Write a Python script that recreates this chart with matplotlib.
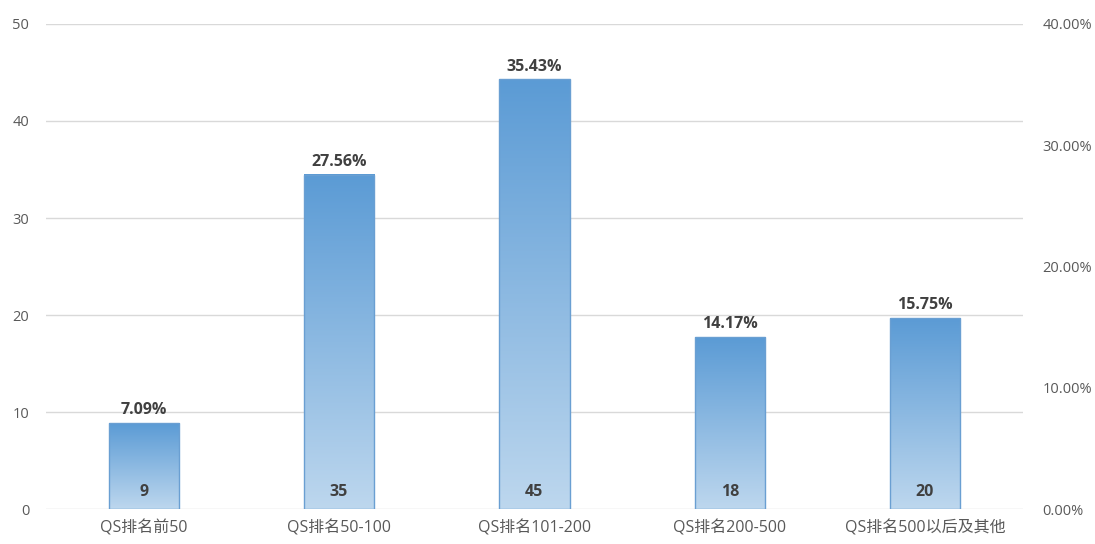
import matplotlib
matplotlib.use("Agg")
import matplotlib.pyplot as plt
import numpy as np
from matplotlib.colors import LinearSegmentedColormap

plt.rcParams['font.family'] = ['Open Sans', 'Noto Sans CJK SC', 'DejaVu Sans']

categories = ["QS排名前50", "QS排名50-100", "QS排名101-200", "QS排名200-500", "QS排名500以后及其他"]
counts = [9, 35, 45, 18, 20]
percents = [7.09, 27.56, 35.43, 14.17, 15.75]
left_ticks = [0, 10, 20, 30, 40, 50]
right_ticks = [0, 10, 20, 30, 40]

fig = plt.figure(figsize=(10.95, 5.44), dpi=100)
ax = fig.add_axes([0.042, 0.0643, 0.892, 0.8916])
ax2 = ax.twinx()

x = np.arange(len(categories))
w = 0.36

ax.set_xlim(-0.5, len(categories) - 0.5)
ax.set_ylim(0, 50)
ax.set_yticks(left_ticks)
ax.grid(axis='y', color='#d9d9d9', linewidth=1)
ax.set_axisbelow(True)
ax2.set_ylim(0, 40)
ax2.set_yticks(right_ticks)
ax2.set_yticklabels([f"{t:.2f}%" for t in right_ticks])

for a in (ax, ax2):
    for s in a.spines.values():
        s.set_visible(False)
    a.tick_params(length=0, labelsize=10.5, colors='#595959')
ax.tick_params(axis='y', pad=12)
ax2.tick_params(axis='y', pad=14)
ax.set_xticks(x)
ax.set_xticklabels(categories, fontsize=11.5, color='#595959')
ax.tick_params(axis='x', pad=8)

cmap = LinearSegmentedColormap.from_list('g', ['#bdd7ee', '#5b9bd5'])
grad = np.linspace(0, 1, 256).reshape(-1, 1)
for xi, p, c in zip(x, percents, counts):
    ax2.imshow(grad, extent=(xi - w / 2, xi + w / 2, 0, p), origin='lower',
               aspect='auto', cmap=cmap, zorder=2)
    ax2.bar(xi, p, width=w, facecolor='none', edgecolor='#6a9fd2', linewidth=1, zorder=3)
    ax2.text(xi, p + 0.4, f"{p:.2f}%", ha='center', va='bottom', fontsize=11.5,
             fontweight='bold', color='#404040', zorder=4)
    ax2.text(xi, 1.4, f"{c}", ha='center', va='center', fontsize=11.5,
             fontweight='bold', color='#404040', zorder=4)

ax2.set_xlim(-0.5, len(categories) - 0.5)
ax2.set_ylim(0, 40)

fig.savefig("out.png", dpi=100)
